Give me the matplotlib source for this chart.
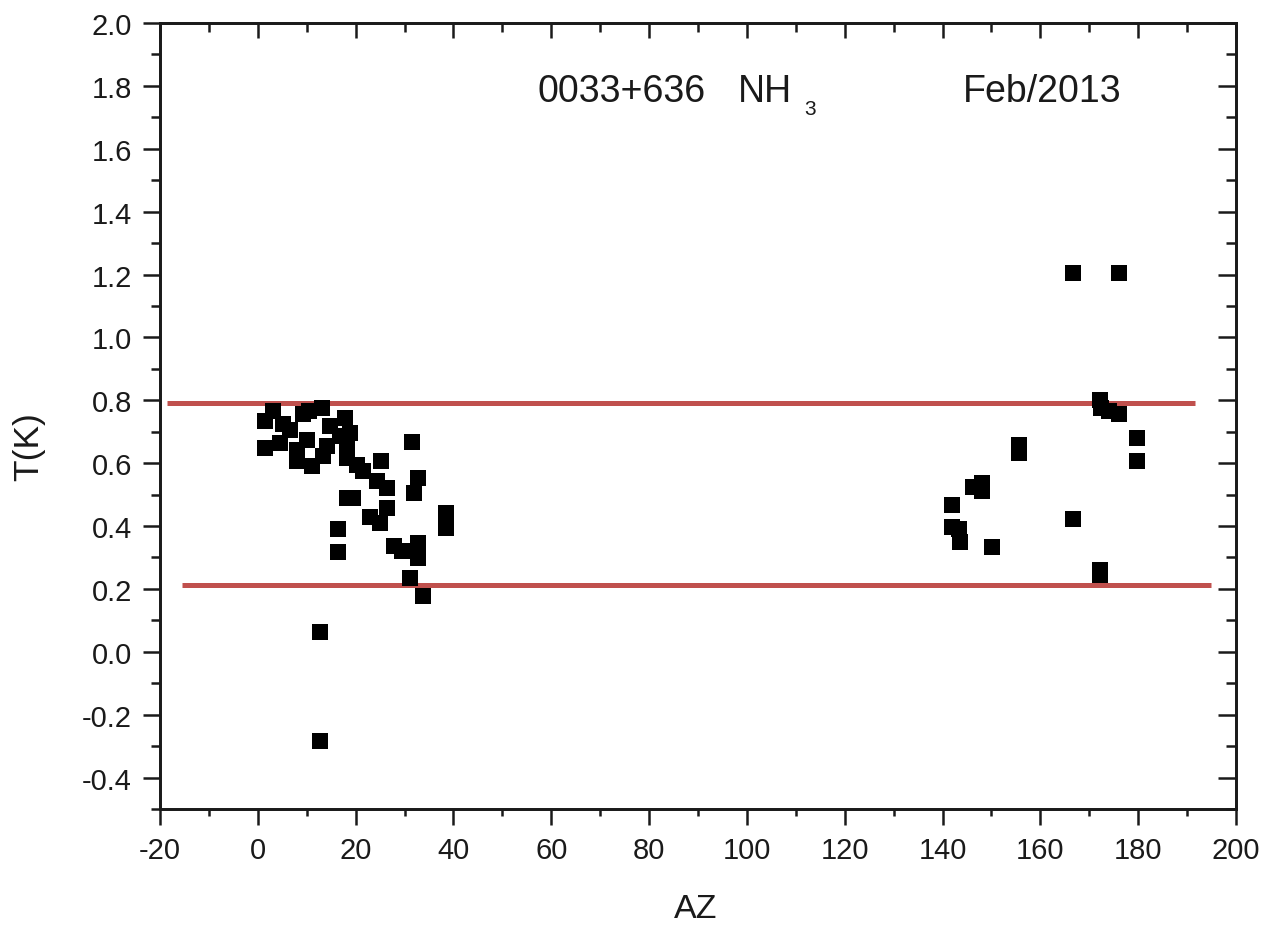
import matplotlib
matplotlib.use("Agg")
import matplotlib.pyplot as plt
from matplotlib.ticker import MultipleLocator, FormatStrFormatter

# --- data ---
az_left = [1.5, 1.5, 3.2, 4.5, 5.2, 6.6, 8.0, 8.0, 9.3, 10.0, 10.5, 11.0,
           13.1, 13.4, 14.1, 14.8, 16.8, 17.8, 18.2, 18.2, 18.9, 20.2, 21.6,
           19.5, 18.3, 24.3, 22.9, 26.4, 25.0, 25.1, 26.5, 16.3, 16.3, 31.5,
           32.8, 31.9, 38.4, 38.4, 27.9, 32.8, 32.8, 29.5, 31.1, 33.7, 12.7, 12.7]
t_left = [0.733, 0.649, 0.765, 0.665, 0.723, 0.707, 0.643, 0.606, 0.755, 0.675,
          0.765, 0.590, 0.776, 0.622, 0.654, 0.718, 0.686, 0.744, 0.665, 0.617,
          0.697, 0.595, 0.574, 0.489, 0.489, 0.542, 0.429, 0.458, 0.410, 0.608,
          0.520, 0.389, 0.316, 0.667, 0.553, 0.505, 0.442, 0.394, 0.335, 0.346,
          0.298, 0.320, 0.235, 0.176, 0.064, -0.283]

az_right = [166.6, 176.0, 172.1, 172.3, 174.0, 176.0, 179.8, 179.8, 155.6, 155.6,
            166.6, 172.1, 172.1, 146.3, 148.0, 148.0, 142.0, 142.0, 143.3, 143.6, 150.1]
t_right = [1.204, 1.204, 0.800, 0.775, 0.765, 0.755, 0.680, 0.608, 0.659, 0.631,
           0.423, 0.260, 0.245, 0.524, 0.538, 0.510, 0.468, 0.397, 0.389, 0.349, 0.333]

upper_level = 0.79
upper_span = [-18.6, 191.6]
lower_level = 0.211
lower_span = [-15.5, 194.9]

xlim = (-20, 200)
ylim = (-0.5, 2.0)

plt.rcParams['font.family'] = ['Liberation Sans', 'DejaVu Sans']
plt.rcParams['axes.unicode_minus'] = False

ink = '#1a1a1a'
fig = plt.figure(figsize=(12.64, 9.28), dpi=100)
ax = fig.add_axes([160/1264, 1-810/928, (1236-160)/1264, (810-24)/928])

red = '#C0504D'
ax.plot(upper_span, [upper_level, upper_level], color=red, lw=3.6, solid_capstyle='butt', zorder=2)
ax.plot(lower_span, [lower_level, lower_level], color=red, lw=3.6, solid_capstyle='butt', zorder=2)

ax.plot(az_left + az_right, t_left + t_right, 's', color='black', ms=11.5, mew=0, zorder=3)

ax.set_xlim(*xlim)
ax.set_ylim(*ylim)
ax.xaxis.set_major_locator(MultipleLocator(20))
ax.xaxis.set_minor_locator(MultipleLocator(10))
ax.set_yticks([round(-0.4 + 0.2*i, 1) for i in range(13)])
ax.yaxis.set_minor_locator(MultipleLocator(0.1))
ax.yaxis.set_major_formatter(FormatStrFormatter('%.1f'))

for sp in ax.spines.values():
    sp.set_linewidth(1.8)
    sp.set_color(ink)

ax.tick_params(axis='y', which='major', direction='out', length=12.2, width=1.8,
               labelsize=21, color=ink, labelcolor=ink, pad=8)
ax.tick_params(axis='y', which='minor', direction='out', length=6.5, width=1.8, color=ink)
ax.tick_params(axis='x', which='major', direction='out', length=11.3, width=1.8,
               labelsize=21, color=ink, labelcolor=ink, pad=8)
ax.tick_params(axis='x', which='minor', direction='out', length=5.2, width=1.8, color=ink)

# inward ticks on top and right
axr = ax.twinx()
axr.set_ylim(*ylim)
axr.yaxis.set_major_locator(MultipleLocator(0.2))
axr.yaxis.set_minor_locator(MultipleLocator(0.1))
axr.tick_params(axis='y', which='major', direction='in', length=13, width=1.8, labelright=False, color=ink)
axr.tick_params(axis='y', which='minor', direction='in', length=7, width=1.8, color=ink)
axt = ax.twiny()
axt.set_xlim(*xlim)
axt.xaxis.set_major_locator(MultipleLocator(20))
axt.xaxis.set_minor_locator(MultipleLocator(10))
axt.tick_params(axis='x', which='major', direction='in', length=11, width=1.8, labeltop=False, color=ink)
axt.tick_params(axis='x', which='minor', direction='in', length=6.5, width=1.8, color=ink)
for a in (axr, axt):
    for sp in a.spines.values():
        sp.set_linewidth(1.8)
        sp.set_color(ink)

ax.set_xlabel('AZ', fontsize=24.5, color=ink, va='center')
ax.xaxis.set_label_coords(0.498, -0.1272)
ax.set_ylabel('T(K)', fontsize=25.5, color=ink, va='center')
ax.yaxis.set_label_coords(-0.1217, 0.4618)

ax.text(57.2, 1.752, '0033+636', fontsize=27, va='baseline', ha='left', color=ink)
ax.text(98.2, 1.752, 'NH', fontsize=27, va='baseline', ha='left', color=ink)
ax.text(111.7, 1.710, '3', fontsize=15, va='baseline', ha='left', color=ink)
ax.text(144.2, 1.752, 'Feb/2013', fontsize=27, va='baseline', ha='left', color=ink)

fig.savefig('out.png', dpi=100, facecolor='white')
